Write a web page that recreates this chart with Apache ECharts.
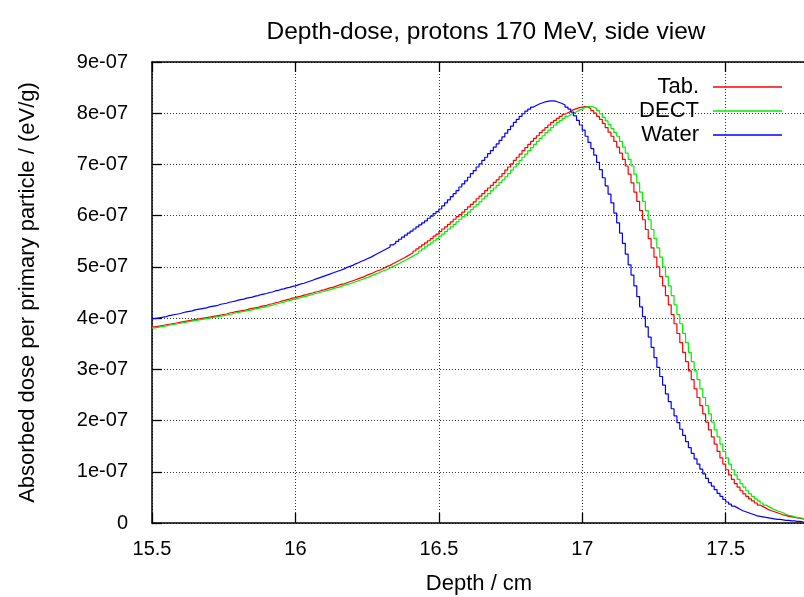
<!DOCTYPE html>
<html>
<head>
<meta charset="utf-8">
<script src="https://cdn.jsdelivr.net/npm/echarts@6/dist/echarts.min.js"></script>
<style>
  html, body { margin: 0; padding: 0; background: #ffffff; }
  #chart { width: 804px; height: 597px; }
</style>
</head>
<body>
<div id="chart"></div>
<script>
// Depth-dose histograms, 0.01 cm bins starting at 15.50 cm.
// Values in units of 1e-07 eV/g per primary particle.
const binStart = 15.5;
const binWidth = 0.01;
const depthMax = 17.78;
const doseUnit = 1e-7;

const tabDose = [
  3.83, 3.84, 3.85, 3.86, 3.87, 3.88, 3.89, 3.90, 3.91, 3.92,
  3.93, 3.94, 3.95, 3.96, 3.97, 3.98, 3.99, 4.00, 4.01, 4.02,
  4.03, 4.04, 4.05, 4.06, 4.07, 4.08, 4.10, 4.11, 4.12, 4.13,
  4.14, 4.15, 4.16, 4.18, 4.19, 4.20, 4.21, 4.23, 4.24, 4.25,
  4.27, 4.28, 4.30, 4.31, 4.33, 4.34, 4.36, 4.37, 4.39, 4.40,
  4.42, 4.43, 4.45, 4.46, 4.48, 4.49, 4.51, 4.52, 4.54, 4.55,
  4.57, 4.59, 4.60, 4.62, 4.64, 4.66, 4.67, 4.69, 4.71, 4.73,
  4.75, 4.77, 4.79, 4.81, 4.84, 4.86, 4.88, 4.91, 4.93, 4.95,
  4.98, 5.01, 5.03, 5.06, 5.09, 5.12, 5.15, 5.18, 5.21, 5.24,
  5.27, 5.31, 5.35, 5.39, 5.43, 5.47, 5.51, 5.55, 5.60, 5.64,
  5.69, 5.74, 5.78, 5.83, 5.88, 5.93, 5.98, 6.02, 6.07, 6.12,
  6.17, 6.22, 6.27, 6.33, 6.38, 6.43, 6.49, 6.54, 6.59, 6.65,
  6.70, 6.76, 6.82, 6.89, 6.95, 7.01, 7.08, 7.14, 7.20, 7.27,
  7.33, 7.39, 7.45, 7.51, 7.56, 7.62, 7.67, 7.72, 7.77, 7.82,
  7.86, 7.90, 7.94, 7.98, 8.01, 8.04, 8.07, 8.09, 8.11, 8.12,
  8.13, 8.12, 8.09, 8.05, 8.00, 7.94, 7.88, 7.80, 7.72, 7.63,
  7.55, 7.45, 7.34, 7.22, 7.10, 6.97, 6.81, 6.64, 6.46, 6.28,
  6.10, 5.92, 5.73, 5.55, 5.37, 5.19, 5.00, 4.81, 4.63, 4.44,
  4.26, 4.07, 3.89, 3.70, 3.52, 3.33, 3.15, 2.97, 2.80, 2.62,
  2.45, 2.29, 2.13, 1.97, 1.82, 1.68, 1.54, 1.40, 1.27, 1.15,
  1.04, 0.94, 0.85, 0.77, 0.70, 0.63, 0.57, 0.52, 0.47, 0.43,
  0.39, 0.35, 0.32, 0.29, 0.26, 0.24, 0.22, 0.20, 0.18, 0.16,
  0.15, 0.13, 0.12, 0.11, 0.10, 0.09, 0.08, 0.07
];

const dectDose = [
  3.81, 3.82, 3.83, 3.84, 3.85, 3.86, 3.87, 3.88, 3.89, 3.90,
  3.91, 3.92, 3.93, 3.94, 3.95, 3.96, 3.97, 3.98, 3.99, 4.00,
  4.01, 4.02, 4.03, 4.04, 4.05, 4.06, 4.07, 4.08, 4.10, 4.11,
  4.12, 4.13, 4.14, 4.15, 4.16, 4.18, 4.19, 4.20, 4.21, 4.23,
  4.24, 4.25, 4.27, 4.28, 4.30, 4.31, 4.33, 4.34, 4.36, 4.37,
  4.39, 4.40, 4.42, 4.43, 4.45, 4.46, 4.48, 4.49, 4.51, 4.52,
  4.54, 4.55, 4.57, 4.59, 4.60, 4.62, 4.64, 4.66, 4.67, 4.69,
  4.71, 4.73, 4.75, 4.77, 4.79, 4.81, 4.84, 4.86, 4.88, 4.91,
  4.93, 4.95, 4.98, 5.01, 5.03, 5.06, 5.09, 5.12, 5.15, 5.18,
  5.21, 5.24, 5.27, 5.31, 5.35, 5.39, 5.43, 5.47, 5.51, 5.55,
  5.60, 5.64, 5.69, 5.74, 5.78, 5.83, 5.88, 5.93, 5.98, 6.02,
  6.07, 6.12, 6.17, 6.22, 6.27, 6.33, 6.38, 6.43, 6.49, 6.54,
  6.59, 6.65, 6.70, 6.76, 6.82, 6.89, 6.95, 7.01, 7.08, 7.14,
  7.20, 7.27, 7.33, 7.39, 7.45, 7.51, 7.56, 7.62, 7.67, 7.72,
  7.77, 7.82, 7.86, 7.90, 7.94, 7.97, 8.00, 8.03, 8.06, 8.08,
  8.11, 8.13, 8.13, 8.12, 8.09, 8.05, 7.99, 7.92, 7.85, 7.78,
  7.70, 7.62, 7.55, 7.45, 7.34, 7.22, 7.10, 6.97, 6.81, 6.64,
  6.46, 6.28, 6.10, 5.92, 5.73, 5.55, 5.37, 5.19, 5.00, 4.81,
  4.63, 4.44, 4.26, 4.07, 3.89, 3.70, 3.52, 3.33, 3.15, 2.97,
  2.80, 2.62, 2.45, 2.29, 2.13, 1.97, 1.82, 1.68, 1.54, 1.40,
  1.27, 1.15, 1.04, 0.94, 0.85, 0.77, 0.70, 0.63, 0.57, 0.52,
  0.47, 0.43, 0.39, 0.35, 0.32, 0.29, 0.26, 0.24, 0.22, 0.20,
  0.17, 0.15, 0.14, 0.12, 0.11, 0.10, 0.09, 0.08
];

const waterDose = [
  3.99, 4.00, 4.01, 4.02, 4.03, 4.05, 4.06, 4.07, 4.08, 4.09,
  4.11, 4.12, 4.13, 4.14, 4.16, 4.17, 4.18, 4.19, 4.20, 4.22,
  4.23, 4.24, 4.25, 4.27, 4.28, 4.29, 4.31, 4.32, 4.33, 4.35,
  4.36, 4.37, 4.39, 4.40, 4.41, 4.43, 4.44, 4.46, 4.47, 4.48,
  4.50, 4.51, 4.53, 4.54, 4.56, 4.57, 4.59, 4.60, 4.62, 4.63,
  4.65, 4.67, 4.68, 4.70, 4.72, 4.74, 4.76, 4.78, 4.80, 4.82,
  4.84, 4.86, 4.88, 4.90, 4.92, 4.94, 4.96, 4.99, 5.01, 5.03,
  5.06, 5.08, 5.11, 5.13, 5.16, 5.18, 5.21, 5.24, 5.27, 5.30,
  5.33, 5.36, 5.39, 5.43, 5.46, 5.50, 5.54, 5.58, 5.62, 5.66,
  5.70, 5.74, 5.78, 5.82, 5.86, 5.90, 5.95, 5.99, 6.04, 6.08,
  6.13, 6.19, 6.25, 6.31, 6.37, 6.43, 6.49, 6.56, 6.62, 6.68,
  6.75, 6.82, 6.88, 6.95, 7.01, 7.08, 7.14, 7.21, 7.27, 7.34,
  7.40, 7.47, 7.54, 7.61, 7.68, 7.75, 7.82, 7.88, 7.94, 7.99,
  8.04, 8.08, 8.12, 8.15, 8.18, 8.20, 8.22, 8.23, 8.24, 8.24,
  8.23, 8.21, 8.19, 8.16, 8.12, 8.08, 8.02, 7.95, 7.86, 7.77,
  7.67, 7.55, 7.43, 7.31, 7.18, 7.04, 6.90, 6.74, 6.58, 6.42,
  6.25, 6.05, 5.86, 5.66, 5.46, 5.25, 5.04, 4.84, 4.63, 4.42,
  4.22, 4.03, 3.83, 3.63, 3.43, 3.23, 3.04, 2.86, 2.69, 2.52,
  2.37, 2.23, 2.09, 1.96, 1.83, 1.71, 1.59, 1.47, 1.36, 1.25,
  1.15, 1.05, 0.96, 0.87, 0.79, 0.72, 0.65, 0.58, 0.52, 0.46,
  0.41, 0.37, 0.33, 0.30, 0.27, 0.24, 0.22, 0.20, 0.18, 0.16,
  0.14, 0.13, 0.12, 0.11, 0.10, 0.09, 0.08, 0.07, 0.07, 0.06,
  0.05, 0.05, 0.04, 0.04, 0.03, 0.03, 0.02, 0.02
];

const seriesNames = ['Tab.', 'DECT', 'Water'];
const seriesColors = ['#ff0000', '#00ee00', '#0000ff'];
const xTicks = [15.5, 16, 16.5, 17, 17.5];

// Histogram steps: each value is held across its bin, closed at the last bin edge.
function toSteps(values) {
  const pts = values.map((v, i) => [+(binStart + i * binWidth).toFixed(2), v * doseUnit]);
  pts.push([depthMax, values[values.length - 1] * doseUnit]);
  return pts;
}

const FONT = 'Liberation Sans, Arial, Helvetica, sans-serif';
const FS = 20;
const gridLine = { show: true, lineStyle: { color: '#333', width: 1, type: [1, 2] } };
const tickStyle = { show: true, inside: true, length: 10, lineStyle: { color: '#000', width: 1.3 } };

const chart = echarts.init(document.getElementById('chart'), null, { renderer: 'canvas' });
chart.setOption({
  animation: false,
  backgroundColor: '#ffffff',
  title: {
    text: 'Depth-dose, protons 170 MeV, side view',
    left: 481, top: 15, textAlign: 'center',
    textStyle: { fontFamily: FONT, fontSize: 24.5, fontWeight: 'normal', color: '#000' }
  },
  legend: {
    orient: 'vertical', right: 17, top: 71, align: 'right',
    itemWidth: 69, itemHeight: 1.5, itemGap: 2, icon: 'rect',
    data: seriesNames,
    textStyle: { fontFamily: FONT, fontSize: 22, color: '#000', padding: [0, 9, 0, 0] }
  },
  // fixed plot frame: the right edge runs just past the canvas
  grid: { left: 152, right: -2, top: 62, bottom: 74, containLabel: false, outerBoundsMode: 'none' },
  xAxis: [{
    type: 'value', min: binStart, max: depthMax, interval: 0.5, position: 'bottom',
    name: 'Depth / cm', nameLocation: 'middle', nameGap: 50,
    nameTextStyle: { fontFamily: FONT, fontSize: 22, color: '#000' },
    axisLine: { show: true, onZero: false, lineStyle: { color: '#000', width: 1.5 } },
    axisTick: tickStyle,
    axisLabel: { fontFamily: FONT, fontSize: FS, color: '#000', margin: 16, showMaxLabel: false,
      formatter: v => xTicks.some(t => Math.abs(t - v) < 1e-6) ? String(v) : '' },
    splitLine: gridLine
  }, {
    type: 'value', min: binStart, max: depthMax, interval: 0.5, position: 'top',
    axisLine: { show: true, onZero: false, lineStyle: { color: '#000', width: 1.5 } },
    axisTick: tickStyle, axisLabel: { show: false }, splitLine: { show: false }
  }],
  yAxis: {
    type: 'value', min: 0, max: 9e-7, interval: 1e-7,
    name: 'Absorbed dose per primary particle / (eV/g)', nameLocation: 'middle', nameGap: 113,
    nameTextStyle: { fontFamily: FONT, fontSize: 22, color: '#000' },
    axisLine: { show: true, lineStyle: { color: '#000', width: 1.5 } },
    axisTick: tickStyle,
    axisLabel: { fontFamily: FONT, fontSize: FS, color: '#000', margin: 24,
      formatter: v => { const n = Math.round(v / doseUnit); return n === 0 ? '0' : n + 'e-07'; } },
    splitLine: gridLine
  },
  series: [tabDose, dectDose, waterDose].map((vals, k) => ({
    name: seriesNames[k], type: 'line', step: 'end', xAxisIndex: 0,
    data: toSteps(vals), symbol: 'none', silent: true,
    lineStyle: { color: seriesColors[k], width: 1.2 },
    itemStyle: { color: seriesColors[k] }
  }))
});
</script>
</body>
</html>
